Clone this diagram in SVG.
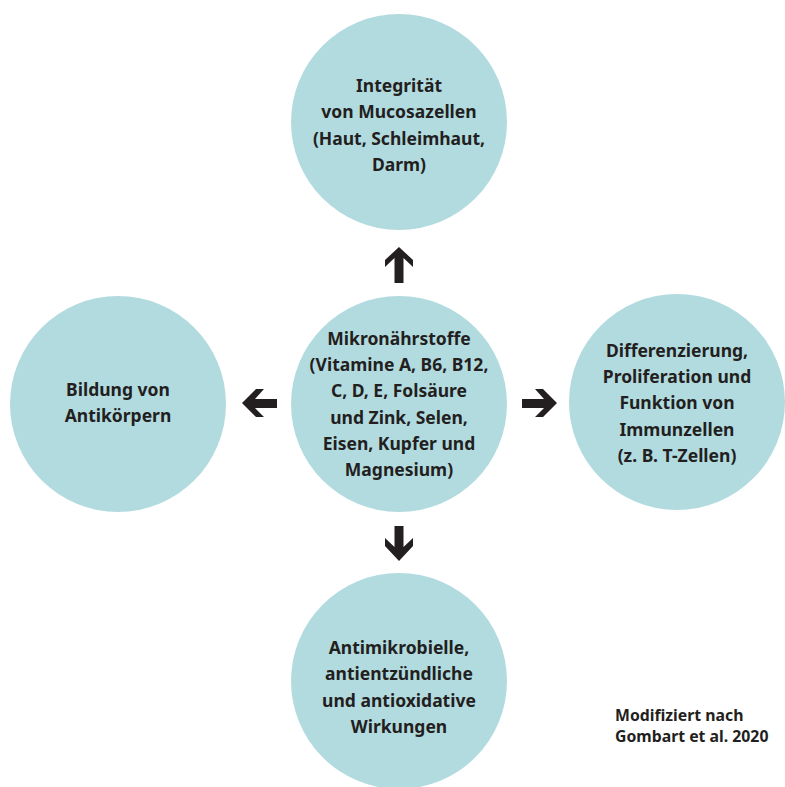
<svg xmlns="http://www.w3.org/2000/svg" width="785" height="787" viewBox="0 0 785 787">
<style>
.c{fill:#b2dbe0}
.t{font-family:"Noto Sans","Liberation Sans",sans-serif;font-weight:700;font-size:17.5px;fill:#231f20;text-anchor:middle}
.s{font-family:"Noto Sans","Liberation Sans",sans-serif;font-weight:700;font-size:15.8px;fill:#231f20}
.a{fill:#231f20}
</style>
<rect width="785" height="787" fill="#fff"/>
<g id="top">
<circle class="c" cx="399" cy="122" r="108"/>
<text class="t" x="399" y="92">Integrität</text>
<text class="t" x="399" y="118">von Mucosazellen</text>
<text class="t" x="399" y="145">(Haut, Schleimhaut,</text>
<text class="t" x="399" y="171">Darm)</text>
</g>
<g id="center">
<circle class="c" cx="399" cy="404" r="108"/>
<text class="t" x="399" y="345">Mikronährstoffe</text>
<text class="t" x="399" y="371">(Vitamine A, B6, B12,</text>
<text class="t" x="399" y="397">C, D, E, Folsäure</text>
<text class="t" x="399" y="424">und Zink, Selen,</text>
<text class="t" x="399" y="450">Eisen, Kupfer und</text>
<text class="t" x="399" y="476">Magnesium)</text>
</g>
<g id="left">
<circle class="c" cx="118" cy="404" r="108"/>
<text class="t" x="118" y="396">Bildung von</text>
<text class="t" x="118" y="422">Antikörpern</text>
</g>
<g id="right">
<circle class="c" cx="677" cy="402" r="108"/>
<text class="t" x="677" y="357">Differenzierung,</text>
<text class="t" x="677" y="383">Proliferation und</text>
<text class="t" x="677" y="409">Funktion von</text>
<text class="t" x="677" y="436">Immunzellen</text>
<text class="t" x="677" y="462">(z. B. T-Zellen)</text>
</g>
<g id="bottom">
<circle class="c" cx="399" cy="681" r="108"/>
<text class="t" x="399" y="654">Antimikrobielle,</text>
<text class="t" x="399" y="680">antientzündliche</text>
<text class="t" x="399" y="707">und antioxidative</text>
<text class="t" x="399" y="733">Wirkungen</text>
</g>
<g id="connectors">
<polygon class="a" points="394.5,283 403.5,283 403.5,258 413,267 413,260 399,247 385,260 385,267 394.5,258"/>
<polygon class="a" points="394.5,526 403.5,526 403.5,547 413,538 413,546 399,561 385,546 385,538 394.5,547"/>
<polygon class="a" points="277,399 277,408 255,408 264,417 256,417 242,403 256,389 264,389 255,399"/>
<polygon class="a" points="522,399 522,408 544,408 535,417 543,417 557,403 543,389 535,389 544,399"/>
</g>
<g id="credit">
<text class="s" x="615" y="721">Modifiziert nach</text>
<text class="s" x="615" y="742">Gombart et al. 2020</text>
</g>
</svg>
